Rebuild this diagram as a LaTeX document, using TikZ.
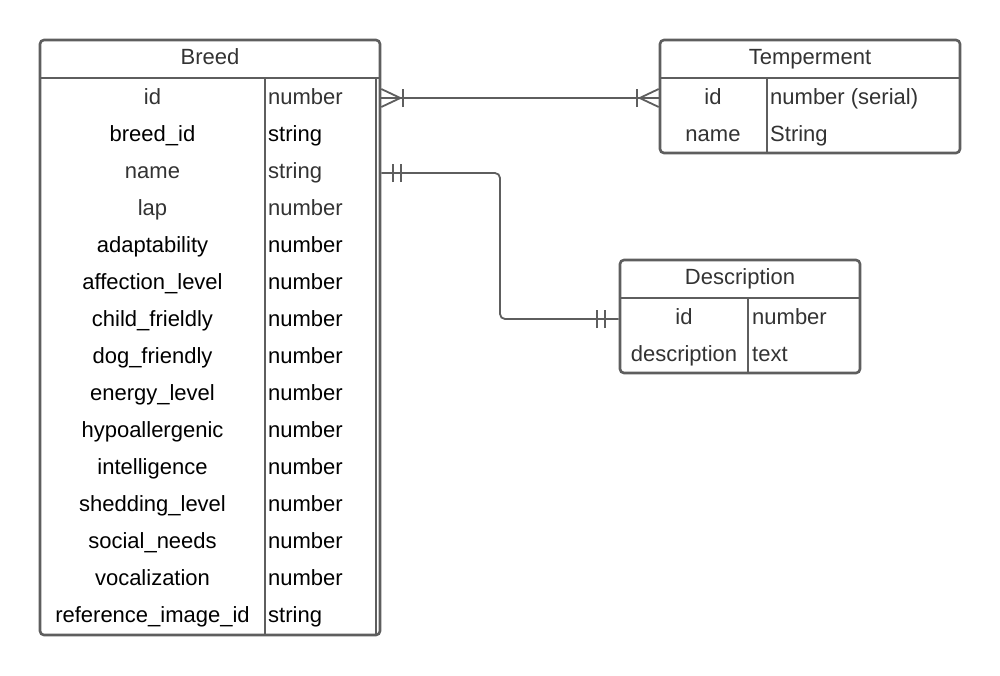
\documentclass[tikz,border=0pt]{standalone}
\usepackage{fontspec}
\setmainfont{Liberation Sans}
\begin{document}
\begin{tikzpicture}[x=1pt,y=-1pt,
  ln/.style={draw=lc, line width=2.6pt},
  cn/.style={draw=lc, line width=1.8pt},
  tbox/.style={ln, rounded corners=4pt, fill=white, inner sep=0pt},
  ctext/.style={anchor=center, inner sep=0pt, text height=16pt, text depth=4.5pt, font=\fontsize{22}{26}\selectfont, text=tg},
  ltext/.style={anchor=west, inner sep=0pt, text height=16pt, text depth=4.5pt, font=\fontsize{22}{26}\selectfont, text=tg}]
\definecolor{lc}{HTML}{5E5E5E}
\definecolor{tg}{HTML}{333333}
\useasboundingbox (0,0) rectangle (1000,675);
\fill[white] (0,0) rectangle (1000,675);

% ---------- Breed ----------
\node[tbox, minimum width=340pt, minimum height=595pt] (breed) at (210,337.5) {};
\draw[ln] (40,78) -- (380,78);
\draw[ln] (265,78) -- (265,635);
\draw[draw=lc, line width=1.6pt] (376,78) -- (376,634);
\node[ctext] (breedT) at (210,59) {Breed};
\foreach \n/\t/\c [count=\i from 0] in {
  id/number/tg, breed\_id/string/black, name/string/tg, lap/number/tg,
  adaptability/number/black, affection\_level/number/black,
  child\_frieldly/number/black, dog\_friendly/number/black,
  energy\_level/number/black, hypoallergenic/number/black,
  intelligence/number/black, shedding\_level/number/black,
  social\_needs/number/black, vocalization/number/black,
  reference\_image\_id/string/black}{
  \node[ctext, text=\c] (bn\i) at (152.5,{98.5+37*\i}) {\n};
  \node[ltext, text=\c] (bt\i) at (268,{98.5+37*\i}) {\t};
}

% ---------- Temperment ----------
\node[tbox, minimum width=300pt, minimum height=113pt] (temp) at (810,96.5) {};
\draw[ln] (660,78) -- (960,78);
\draw[ln] (767,78) -- (767,153);
\node[ctext] (tempT) at (810,59) {Temperment};
\node[ctext] (tn0) at (713,98.5) {id};
\node[ltext] (tt0) at (770,98.5) {number (serial)};
\node[ctext] (tn1) at (713,135.5) {name};
\node[ltext] (tt1) at (770,135.5) {String};

% ---------- Description ----------
\node[tbox, minimum width=240pt, minimum height=113pt] (desc) at (740,316.5) {};
\draw[ln] (620,298) -- (860,298);
\draw[ln] (748,298) -- (748,373);
\node[ctext] (descT) at (740,279) {Description};
\node[ctext] (dn0) at (684,318.5) {id};
\node[ltext] (dt0) at (752,318.5) {number};
\node[ctext] (dn1) at (684,355.5) {description};
\node[ltext] (dt1) at (752,355.5) {text};

% ---------- Connector Breed -- Temperment (many to many) ----------
\coordinate (c1a) at (breed.east |- 0,98);
\coordinate (c1b) at (temp.west |- 0,98);
\draw[cn] (c1a) -- (c1b);
\draw[cn] ([yshift=-9pt]c1a) -- ([xshift=19pt]c1a) -- ([yshift=9pt]c1a);
\draw[cn] ([xshift=22pt,yshift=-9pt]c1a) -- ([xshift=22pt,yshift=9pt]c1a);
\draw[cn] ([yshift=-9pt]c1b) -- ([xshift=-19pt]c1b) -- ([yshift=9pt]c1b);
\draw[cn] ([xshift=-22pt,yshift=-9pt]c1b) -- ([xshift=-22pt,yshift=9pt]c1b);

% ---------- Connector Breed -- Description (one to one) ----------
\coordinate (c2a) at (breed.east |- 0,173);
\coordinate (c2b) at (desc.west |- 0,319);
\draw[cn, rounded corners=5pt] (c2a) -- (500,173) -- (500,319) -- (c2b);
\draw[cn] ([xshift=12pt,yshift=-9pt]c2a) -- ([xshift=12pt,yshift=9pt]c2a);
\draw[cn] ([xshift=20pt,yshift=-9pt]c2a) -- ([xshift=20pt,yshift=9pt]c2a);
\draw[cn] ([xshift=-14pt,yshift=-9pt]c2b) -- ([xshift=-14pt,yshift=9pt]c2b);
\draw[cn] ([xshift=-22pt,yshift=-9pt]c2b) -- ([xshift=-22pt,yshift=9pt]c2b);
\end{tikzpicture}
\end{document}
